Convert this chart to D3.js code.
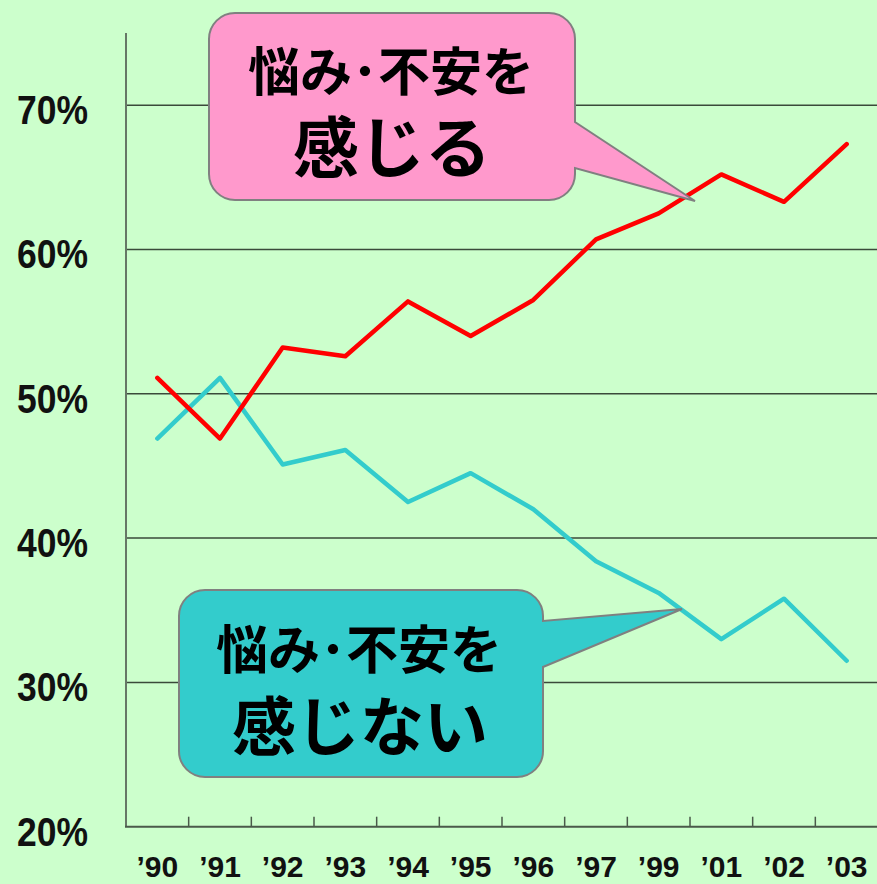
<!DOCTYPE html>
<html>
<head>
<meta charset="utf-8">
<script src="https://cdn.jsdelivr.net/npm/d3@7"></script>
<style>
  body { margin: 0; background: #ccffcc; }
  svg { display: block; }
</style>
</head>
<body>
<svg width="877" height="884"></svg>
<script>
// chart data
const years = ['’90', '’91', '’92', '’93', '’94', '’95', '’96', '’97', '’99', '’01', '’02', '’03'];
const feelAnxiety = [51.1, 46.9, 53.2, 52.6, 56.4, 54.0, 56.5, 60.7, 62.5, 65.2, 63.3, 67.3];
const noAnxiety = [46.9, 51.1, 45.1, 46.1, 42.5, 44.5, 42.0, 38.4, 36.2, 33.0, 35.8, 31.5];
const yTicks = [20, 30, 40, 50, 60, 70];

const svg = d3.select('svg');

svg.append('rect')
    .attr('width', 877)
    .attr('height', 884)
    .attr('fill', '#ccffcc');

const xScale = d3.scaleBand().domain(years).range([126, 878]);
const yScale = d3.scaleLinear().domain([20, 75]).range([826.7, 33]);
const cx = d => xScale(d) + xScale.bandwidth() / 2;

// gridlines
svg.selectAll('.grid')
    .data(yTicks.slice(1))
    .enter()
    .append('line')
    .attr('x1', 126)
    .attr('x2', 877)
    .attr('y1', d => yScale(d))
    .attr('y2', d => yScale(d))
    .attr('stroke', '#3a4a3a')
    .attr('stroke-width', 1.5);

// y tick labels
svg.selectAll('.ylab')
    .data(yTicks)
    .enter()
    .append('text')
    .attr('x', 88)
    .attr('y', d => yScale(d) + 19)
    .attr('text-anchor', 'end')
    .attr('textLength', 71)
    .attr('lengthAdjust', 'spacingAndGlyphs')
    .style('font-family', '"Liberation Sans", Arial, sans-serif')
    .style('font-weight', 'bold')
    .style('font-size', '41px')
    .style('fill', '#111')
    .text(d => d + '%');

// axes
svg.append('line')
    .attr('x1', 126).attr('x2', 126)
    .attr('y1', yScale(75)).attr('y2', yScale(20))
    .attr('stroke', '#667766')
    .attr('stroke-width', 2);

svg.append('line')
    .attr('x1', 125).attr('x2', 877)
    .attr('y1', yScale(20)).attr('y2', yScale(20))
    .attr('stroke', '#4a5a4a')
    .attr('stroke-width', 2);

svg.selectAll('.xtick')
    .data(years.slice(1))
    .enter()
    .append('line')
    .attr('x1', d => xScale(d))
    .attr('x2', d => xScale(d))
    .attr('y1', yScale(20))
    .attr('y2', yScale(20) - 10)
    .attr('stroke', '#4a5a4a')
    .attr('stroke-width', 1.5);

svg.selectAll('.xlab')
    .data(years)
    .enter()
    .append('text')
    .attr('x', d => cx(d))
    .attr('y', 877)
    .attr('text-anchor', 'middle')
    .style('font-family', '"Liberation Sans", Arial, sans-serif')
    .style('font-weight', 'bold')
    .style('font-size', '30px')
    .style('fill', '#111')
    .text(d => d);

// lines
const line = d3.line()
    .x((d, i) => cx(years[i]))
    .y(d => yScale(d));

svg.append('path')
    .attr('d', line(noAnxiety))
    .attr('fill', 'none')
    .attr('stroke', '#33cccc')
    .attr('stroke-width', 4.5)
    .attr('stroke-linejoin', 'round')
    .attr('stroke-linecap', 'round');

svg.append('path')
    .attr('d', line(feelAnxiety))
    .attr('fill', 'none')
    .attr('stroke', '#ff0000')
    .attr('stroke-width', 4.5)
    .attr('stroke-linejoin', 'round')
    .attr('stroke-linecap', 'round');

// callouts
function callout(x0, y0, x1, y1, pTop, pBot, tip, r) {
    const p = d3.path();
    p.moveTo(x0 + r, y0);
    p.lineTo(x1 - r, y0);
    p.arcTo(x1, y0, x1, y0 + r, r);
    p.lineTo(x1, pTop);
    p.lineTo(tip[0], tip[1]);
    p.lineTo(x1, pBot);
    p.lineTo(x1, y1 - r);
    p.arcTo(x1, y1, x1 - r, y1, r);
    p.lineTo(x0 + r, y1);
    p.arcTo(x0, y1, x0, y1 - r, r);
    p.lineTo(x0, y0 + r);
    p.arcTo(x0, y0, x0 + r, y0, r);
    p.closePath();
    return p.toString();
}

svg.append('path')
    .attr('d', callout(209, 13, 575, 200, 122, 168, [695, 201], 26))
    .attr('fill', '#ff99cc')
    .attr('stroke', '#808080')
    .attr('stroke-width', 2);

svg.append('path')
    .attr('d', callout(179, 590, 543, 777, 621, 667, [682, 609], 26))
    .attr('fill', '#33cccc')
    .attr('stroke', '#808080')
    .attr('stroke-width', 2);

const labels = [
    {text: '悩み･不安を', x: 391, y: 68, size: 52},
    {text: '感じる', x: 392, y: 143, size: 66},
    {text: '悩み･不安を', x: 359, y: 646, size: 52},
    {text: '感じない', x: 360, y: 722, size: 64}
];

svg.selectAll('.clab')
    .data(labels)
    .enter()
    .append('text')
    .attr('x', d => d.x)
    .attr('y', d => d.y)
    .attr('text-anchor', 'middle')
    .attr('dominant-baseline', 'central')
    .style('font-family', '"Noto Sans CJK JP", sans-serif')
    .style('font-weight', 'bold')
    .style('font-size', d => d.size + 'px')
    .style('fill', '#000')
    .text(d => d.text);
</script>
</body>
</html>
